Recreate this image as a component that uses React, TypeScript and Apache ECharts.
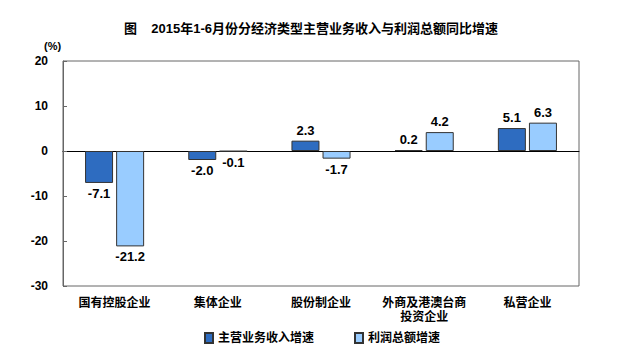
import React, { useEffect, useRef } from "react";
import * as echarts from "echarts";

const categories = ["国有控股企业", "集体企业", "股份制企业", "外商及港澳台商\n投资企业", "私营企业"];
const revenueGrowth = [-7.1, -2.0, 2.3, 0.2, 5.1];
const profitGrowth = [-21.2, -0.1, -1.7, 4.2, 6.3];
const seriesNames = ["主营业务收入增速", "利润总额增速"];
const titleText = "图    2015年1-6月份分经济类型主营业务收入与利润总额同比增速";

const FONT = "'Liberation Sans', 'Noto Sans CJK SC', sans-serif";

function toItems(vals: number[]) {
  return vals.map((v) => ({
    value: v,
    label: { position: v < 0 ? "bottom" : "top" },
  }));
}

export default function App() {
  const ref = useRef<HTMLDivElement>(null);
  useEffect(() => {
    const chart = echarts.init(ref.current!, null, { renderer: "svg" });
    const labelStyle = {
      show: true,
      fontFamily: FONT,
      fontWeight: "bold" as const,
      fontSize: 13,
      color: "#000",
      distance: 4,
      formatter: (p: any) => Number(p.value).toFixed(1),
    };
    chart.setOption({
      animation: false,
      backgroundColor: "#fff",
      title: {
        text: titleText,
        left: "center",
        top: 9,
        textStyle: { fontFamily: FONT, fontSize: 13, fontWeight: "bold", color: "#000" },
      },
      legend: {
        bottom: 5,
        left: 191,
        itemWidth: 8,
        itemHeight: 10,
        itemGap: 40,
        textStyle: { fontFamily: FONT, fontSize: 12, fontWeight: "bold", color: "#000" },
        data: seriesNames.map((n) => ({ name: n, icon: "rect" })),
      },
      graphic: [
        {
          type: "text",
          left: 36,
          top: 32,
          style: { text: "(%)", font: `bold 11px ${FONT}`, fill: "#000" },
        },
      ],
      grid: {
        left: 55,
        right: 35,
        top: 53,
        bottom: 68,
        show: true,
        borderColor: "#666",
        borderWidth: 1,
      },
      xAxis: [
        {
          type: "category",
          data: categories,
          position: "bottom",
          axisLine: { show: false, onZero: false },
          axisTick: { show: false },
          axisLabel: {
            fontFamily: FONT,
            fontSize: 12,
            fontWeight: "bold",
            color: "#000",
            margin: 10,
            lineHeight: 14,
            interval: 0,
          },
        },
        {
          type: "category",
          data: categories,
          position: "bottom",
          axisLine: { show: true, onZero: true, lineStyle: { color: "#000", width: 1 } },
          axisTick: { show: false },
          axisLabel: { show: false },
        },
      ],
      yAxis: {
        type: "value",
        min: -30,
        max: 20,
        interval: 10,
        axisLine: { show: true, lineStyle: { color: "#666" } },
        axisTick: { show: true, inside: true, length: 4, lineStyle: { color: "#666" } },
        splitLine: { show: false },
        axisLabel: {
          fontFamily: FONT,
          fontSize: 12,
          fontWeight: "bold",
          color: "#000",
          margin: 15,
        },
      },
      series: [
        {
          name: seriesNames[0],
          type: "bar",
          xAxisIndex: 0,
          data: toItems(revenueGrowth),
          barWidth: 28,
          barGap: "11%",
          itemStyle: { color: "#2E6CC0", borderColor: "#333", borderWidth: 1 },
          label: labelStyle,
        },
        {
          name: seriesNames[1],
          type: "bar",
          xAxisIndex: 0,
          data: toItems(profitGrowth),
          barWidth: 28,
          barGap: "11%",
          itemStyle: { color: "#99CCFF", borderColor: "#333", borderWidth: 1 },
          label: labelStyle,
        },
      ],
    });
    return () => chart.dispose();
  }, []);
  return <div ref={ref} style={{ width: 606, height: 346 }} />;
}
